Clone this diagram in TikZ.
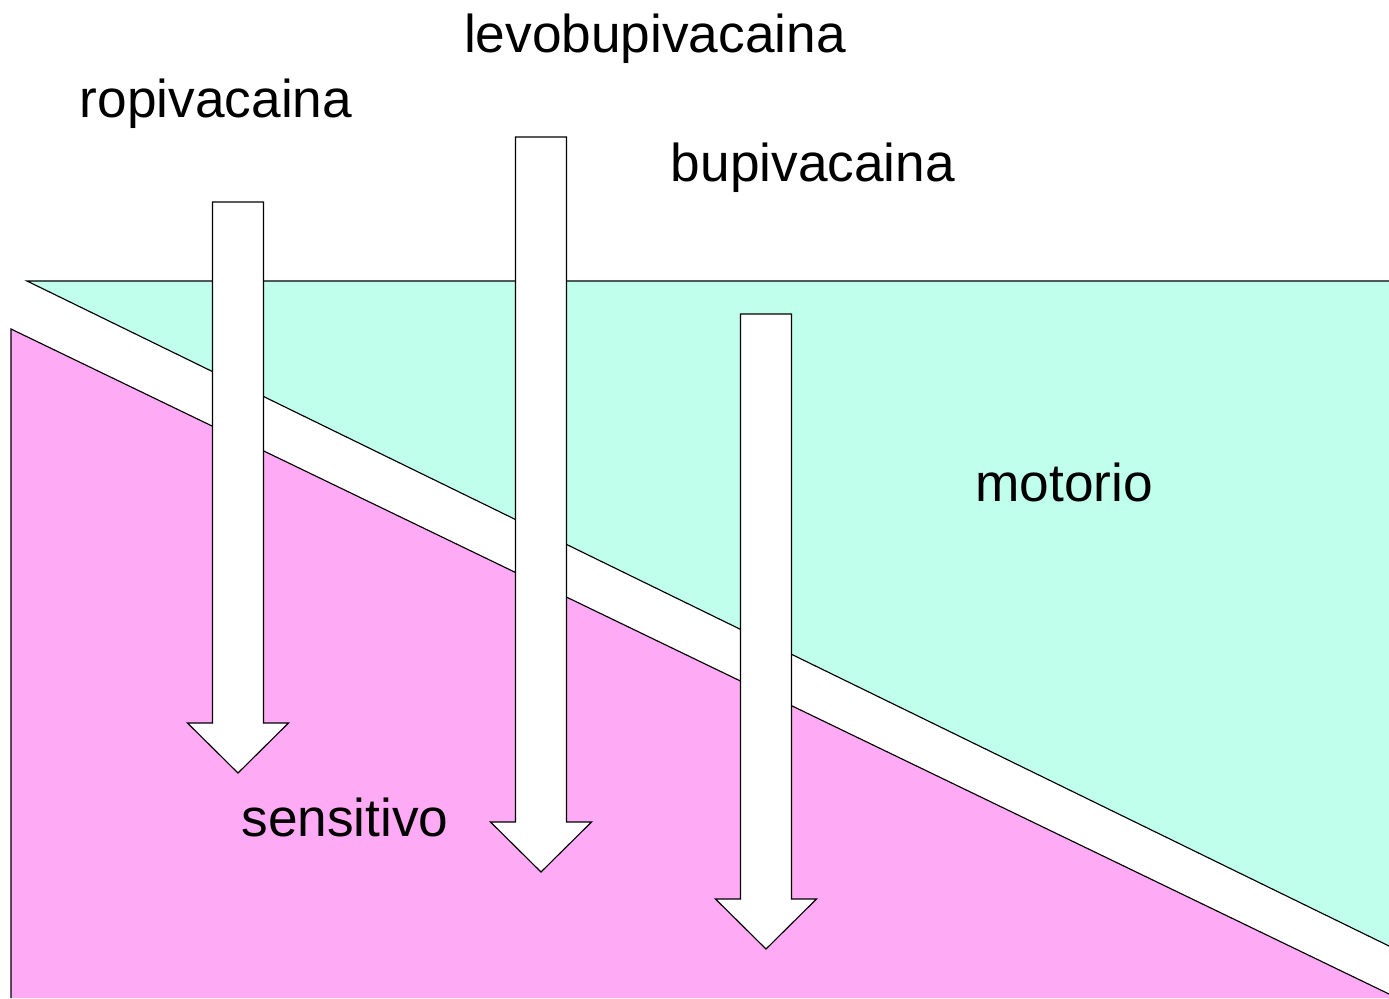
\documentclass[tikz,border=0pt]{standalone}
\usepackage{fontspec}
\setmainfont{Liberation Sans}
\usetikzlibrary{calc}
\definecolor{motorcol}{RGB}{192,255,236}
\definecolor{sensecol}{RGB}{255,170,245}
\tikzset{
  thinborder/.style={line width=0.65pt, draw=black},
  label/.style={anchor=base, inner sep=0pt, font=\fontsize{30.3}{36}\selectfont},
  blockarrow/.style={thinborder, fill=white, line join=miter}
}
% x, top of shaft, start of head
\newcommand{\drawBlockArrow}[3]{%
  \filldraw[blockarrow]
    (#1-25.5,#2) -- (#1+25.5,#2) -- (#1+25.5,#3) -- (#1+50.5,#3)
    -- (#1,#3+50) -- (#1-50.5,#3) -- (#1-25.5,#3) -- cycle;
}

\begin{document}
\begin{tikzpicture}[x=0.02cm,y=-0.02cm]

  \path[use as bounding box] (0,0) rectangle (1389,998);

  % motorio area
  \fill[motorcol] (27,281) -- (1389,281) -- (1389,946) -- cycle;
  \draw[thinborder] (1389,281) -- (27,281) -- (1389,946);

  % sensitivo area
  \fill[sensecol] (11,329) -- (1389,994) -- (1389,998) -- (11,998) -- cycle;
  \draw[thinborder] (11,998) -- (11,329) -- (1389,994);

  % arrows
  \drawBlockArrow{238}{202}{723}
  \drawBlockArrow{541}{137}{822}
  \drawBlockArrow{766}{314}{899}

  % labels
  \node[label] (ropi) at (216,117) {ropivacaina};
  \node[label] (levo) at (655,52) {levobupivacaina};
  \node[label] (bupi) at (813,181) {bupivacaina};
  \node[label] (motor) at (1064,501) {motorio};
  \node[label] (sens) at (345,836) {sensitivo};

\end{tikzpicture}
\end{document}
